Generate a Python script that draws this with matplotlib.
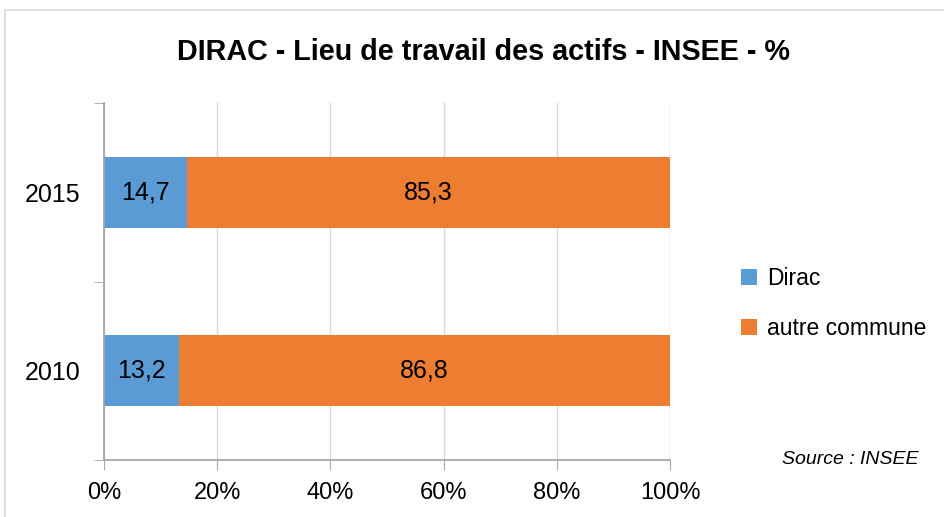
import matplotlib
matplotlib.use("Agg")
import matplotlib.pyplot as plt
from matplotlib.patches import Rectangle
from matplotlib.ticker import FixedLocator, PercentFormatter

years = ["2010", "2015"]
dirac = [13.2, 14.7]
autre = [86.8, 85.3]
series_names = ["Dirac", "autre commune"]
colors = ["#5B9BD5", "#ED7D31"]

plt.rcParams["font.family"] = ["Liberation Sans Narrow", "Liberation Sans", "DejaVu Sans"]

fig = plt.figure(figsize=(9.44, 5.17), dpi=100)
fig.patches.append(Rectangle((5/944, -0.1), 1.2, 1 - 10/517 + 0.1, transform=fig.transFigure,
                             fill=False, edgecolor="#D9D9D9", linewidth=1.2))
ax = fig.add_axes([104/944, 1 - 460/517, 566/944, 357/517])

y = list(range(len(years)))
b1 = ax.barh(y, dirac, height=0.4, color=colors[0], label=series_names[0])
b2 = ax.barh(y, autre, left=dirac, height=0.4, color=colors[1], label=series_names[1])
for bars, vals, lefts in ((b1, dirac, [0]*len(dirac)), (b2, autre, dirac)):
    for yi, v, l in zip(y, vals, lefts):
        ax.text(l + v/2, yi, f"{v:.1f}".replace(".", ","), ha="center", va="center",
                fontsize=18, color="black")

ax.set_xlim(0, 100)
ax.set_ylim(-0.5, 1.5)
ax.set_yticks(y)
ax.set_yticklabels(years, fontsize=18)
ax.yaxis.set_minor_locator(FixedLocator([-0.5, 0.5, 1.5]))
ax.tick_params(axis="y", which="major", length=0, pad=17)
ax.tick_params(axis="y", which="minor", length=7, color="#A6A6A6", direction="out")
ax.set_xticks([0, 20, 40, 60, 80, 100])
ax.xaxis.set_major_formatter(PercentFormatter(decimals=0))
ax.tick_params(axis="x", labelsize=17, length=7, color="#A6A6A6", pad=9)
ax.grid(axis="x", color="#D9D9D9", linewidth=1)
ax.set_axisbelow(True)
for s in ("top", "right"):
    ax.spines[s].set_visible(False)
for s in ("left", "bottom"):
    ax.spines[s].set_color("#A6A6A6")
    ax.spines[s].set_linewidth(1.3)

fig.text(484/944, 1 - 52/517, "DIRAC - Lieu de travail des actifs - INSEE - %",
         ha="center", va="center", fontsize=20.7, fontweight="bold")

leg = fig.legend(handles=[b1, b2], labels=series_names, loc="upper left",
                 bbox_to_anchor=(720/944, 1 - 246/517), frameon=False, fontsize=16.5,
                 handlelength=0.7, handleheight=0.7, handletextpad=0.45, labelspacing=1.2)

fig.text(918/944, 1 - 460/517, "Source : INSEE", ha="right", va="center",
         fontsize=14, style="italic")

fig.savefig("out.png", dpi=100)
